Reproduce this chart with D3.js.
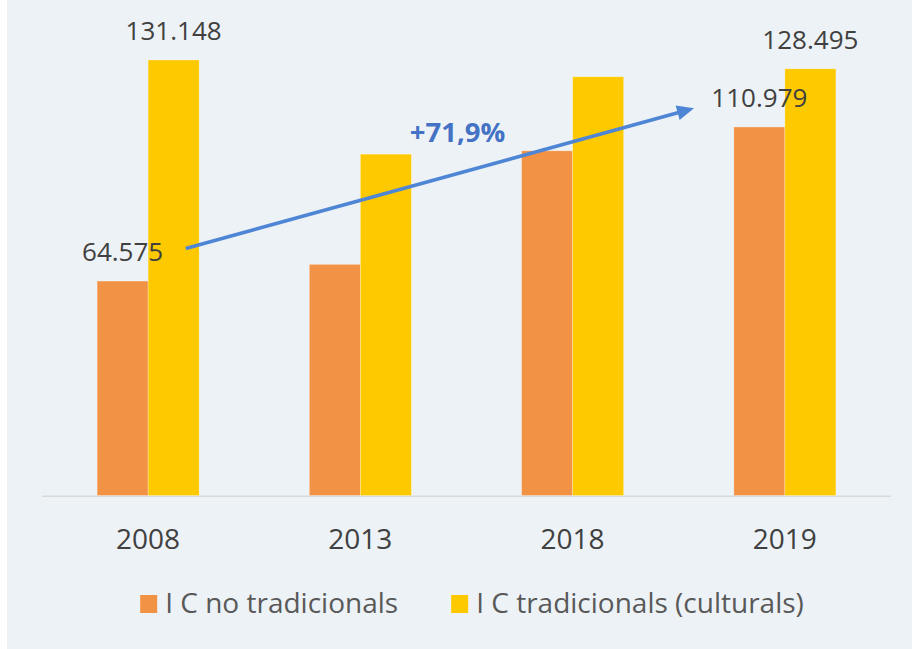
<!DOCTYPE html>
<html>
<head>
<meta charset="utf-8">
<script src="https://cdn.jsdelivr.net/npm/d3@7"></script>
<style>
  html, body { margin: 0; padding: 0; background: #ffffff; }
  svg { display: block; }
  text { font-family: "Open Sans", "Lato", sans-serif; }
</style>
</head>
<body>
<svg id="chart" width="912" height="649"></svg>
<script>
// ---- data ----
const categories = ["2008", "2013", "2018", "2019"];
const seriesNames = ["I C no tradicionals", "I C tradicionals (culturals)"];
const noTradicionals = [64.575, 69.6, 103.8, 110.979];
const tradicionals = [131.148, 102.8, 126.1, 128.495];
// labels shown only for some bars (null = no label)
const noTradLabels = ["64.575", null, null, "110.979"];
const tradLabels = ["131.148", null, null, "128.495"];
const growthLabel = "+71,9%";
const colors = ["#F29244", "#FFC900"];

// ---- layout ----
const svg = d3.select("#chart");
const W = 912, H = 649;
svg.append("rect").attr("x", 0).attr("y", 0).attr("width", W).attr("height", H).attr("fill", "#ffffff");
svg.append("rect").attr("x", 7).attr("y", 0).attr("width", W - 7).attr("height", H).attr("fill", "#EDF2F6");

const plotLeft = 42, plotRight = 891, baseY = 495.5;
const x = d3.scaleBand().domain(categories).range([plotLeft, plotRight]).padding(0);
const xSub = d3.scaleBand().domain([0, 1]).range([0, x.bandwidth()]).paddingInner(0).paddingOuter(1.08);
const y = d3.scaleLinear().domain([0, 140]).range([baseY, baseY - 140 * 3.3207]);

const rows = categories.map((c, i) => ({ cat: c, vals: [noTradicionals[i], tradicionals[i]], labels: [noTradLabels[i], tradLabels[i]] }));

// axis line
svg.append("line")
  .attr("x1", plotLeft).attr("x2", plotRight)
  .attr("y1", baseY + 0.8).attr("y2", baseY + 0.8)
  .attr("stroke", "#D9D9D9").attr("stroke-width", 1.6);

// bars
const g = svg.append("g");
rows.forEach(r => {
  r.vals.forEach((v, si) => {
    g.append("rect")
      .attr("x", x(r.cat) + xSub(si))
      .attr("y", y(v))
      .attr("width", xSub.bandwidth())
      .attr("height", y(0) - y(v))
      .attr("fill", colors[si])
      .attr("stroke", "#ffffff").attr("stroke-opacity", 0.35).attr("stroke-width", 0.8);
  });
});

// x tick labels
categories.forEach(c => {
  svg.append("text")
    .attr("x", x(c) + x.bandwidth() / 2)
    .attr("y", 549)
    .attr("text-anchor", "middle")
    .attr("font-size", 28)
    .attr("fill", "#404040")
    .text(c);
});

// arrow annotation (expressed in data coordinates)
const arrowFrom = { cat: "2008", frac: 0.677, value: 74.4 };
const arrowTo = { cat: "2019", frac: 0.072, value: 116.6 };
const ax1 = x(arrowFrom.cat) + x.bandwidth() * arrowFrom.frac, ay1 = y(arrowFrom.value);
const ax2 = x(arrowTo.cat) + x.bandwidth() * arrowTo.frac, ay2 = y(arrowTo.value);
const arrowColor = "#4E86D5";
const ang = Math.atan2(ay2 - ay1, ax2 - ax1);
const headLen = 17, headHalf = 7.5;
const bx = ax2 - headLen * Math.cos(ang), by = ay2 - headLen * Math.sin(ang);
svg.append("line")
  .attr("x1", ax1).attr("y1", ay1).attr("x2", bx + 2 * Math.cos(ang)).attr("y2", by + 2 * Math.sin(ang))
  .attr("stroke", arrowColor).attr("stroke-width", 3.6);
svg.append("path")
  .attr("d", d3.line()([
    [ax2, ay2],
    [bx - headHalf * Math.sin(ang), by + headHalf * Math.cos(ang)],
    [bx + headHalf * Math.sin(ang), by - headHalf * Math.cos(ang)]
  ]) + "Z")
  .attr("fill", arrowColor);

// data labels
rows.forEach(r => {
  r.vals.forEach((v, si) => {
    const lab = r.labels[si];
    if (!lab) return;
    svg.append("text")
      .attr("x", x(r.cat) + xSub(si) + xSub.bandwidth() / 2)
      .attr("y", y(v) - 20)
      .attr("text-anchor", "middle")
      .attr("font-size", 26)
      .attr("fill", "#404040")
      .text(lab);
  });
});

// growth label
svg.append("text")
  .attr("x", x("2013") + x.bandwidth() * 0.958)
  .attr("y", y(106.5))
  .attr("text-anchor", "middle")
  .attr("font-size", 27.5)
  .attr("font-weight", "bold")
  .attr("fill", "#4472C4")
  .text(growthLabel);

// legend
const legend = svg.append("g");
const items = [];
seriesNames.forEach((name, i) => {
  const it = legend.append("g");
  it.append("rect").attr("x", 0).attr("y", 595).attr("width", 17).attr("height", 18).attr("fill", colors[i]);
  const t = it.append("text").attr("x", 25).attr("y", 613).attr("font-size", 28).attr("fill", "#595959").text(name);
  const w = 25 + t.node().getComputedTextLength();
  items.push({ it, w });
});
const gap = 53;
const totalW = items.reduce((s, d) => s + d.w, 0) + gap * (items.length - 1);
let start = 472 - totalW / 2;
items.forEach(d => {
  d.it.attr("transform", `translate(${start},0)`);
  start += d.w + gap;
});
</script>
</body>
</html>
